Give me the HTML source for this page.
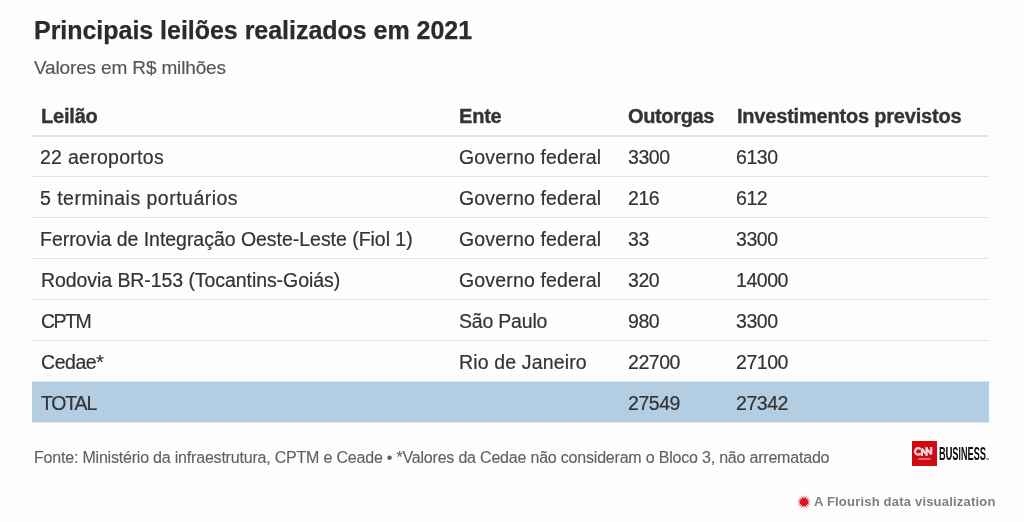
<!DOCTYPE html>
<html><head><meta charset="utf-8">
<style>
html,body{margin:0;padding:0;}
body{width:1024px;height:522px;background:#fdfdfd;position:relative;overflow:hidden;font-family:"Liberation Sans",sans-serif;color:#333;}
.t{position:absolute;white-space:nowrap;transform-origin:0 0;will-change:transform;}
.line{position:absolute;left:32px;width:957px;height:1px;background:#e3e3e3;}
.b{font-weight:bold;}
.h{-webkit-text-stroke:0.35px #333;font-size:20px;line-height:20px;letter-spacing:-0.2px;color:#333;top:106px;}
.r{-webkit-text-stroke:0.2px #333;font-size:19.5px;line-height:19.5px;color:#333;letter-spacing:0.2px;}
</style></head><body>
<div class="t b" style="left:34px;top:18px;letter-spacing:-0.03px;-webkit-text-stroke:0.25px #2b2b2b;font-size:25px;line-height:25px;color:#2b2b2b;">Principais leilões realizados em 2021</div>
<div class="t" style="left:34px;top:58px;font-size:19px;line-height:19px;color:#555;letter-spacing:-0.15px;-webkit-text-stroke:0.15px #555;">Valores em R$ milhões</div>

<div class="t b h" style="left:41px;">Leilão</div>
<div class="t b h" style="left:459px;">Ente</div>
<div class="t b h" style="left:628px;letter-spacing:-0.36px;">Outorgas</div>
<div class="t b h" style="left:737px;">Investimentos previstos</div>
<div class="line" style="top:135px;height:2px;background:#e6e6e6;"></div>
<div class="line" style="top:176px;"></div>
<div class="line" style="top:217px;"></div>
<div class="line" style="top:258px;"></div>
<div class="line" style="top:299px;"></div>
<div class="line" style="top:340px;"></div>
<div class="line" style="top:381px;"></div>
<div class="line" style="top:422px;background:#dfe3e8;"></div>
<div style="position:absolute;left:32px;top:382px;width:957px;height:40px;background:#b3cde3;"></div>
<div class="t r" style="left:40px;top:148px;letter-spacing:0.28px;">22 aeroportos</div>
<div class="t r" style="left:458.7px;top:148px;letter-spacing:0.16px;">Governo federal</div>
<div class="t r" style="left:627.7px;top:148px;letter-spacing:-0.45px;">3300</div>
<div class="t r" style="left:735.7px;top:148px;letter-spacing:-0.45px;">6130</div>
<div class="t r" style="left:40px;top:189px;letter-spacing:0.48px;">5 terminais portuários</div>
<div class="t r" style="left:458.7px;top:189px;letter-spacing:0.16px;">Governo federal</div>
<div class="t r" style="left:627.7px;top:189px;letter-spacing:-0.45px;">216</div>
<div class="t r" style="left:735.7px;top:189px;letter-spacing:-0.45px;">612</div>
<div class="t r" style="left:40px;top:230px;letter-spacing:-0.03px;">Ferrovia de Integração Oeste-Leste (Fiol 1)</div>
<div class="t r" style="left:458.7px;top:230px;letter-spacing:0.16px;">Governo federal</div>
<div class="t r" style="left:627.7px;top:230px;letter-spacing:-0.45px;">33</div>
<div class="t r" style="left:735.7px;top:230px;letter-spacing:-0.45px;">3300</div>
<div class="t r" style="left:40.5px;top:271px;letter-spacing:-0.07px;">Rodovia BR-153 (Tocantins-Goiás)</div>
<div class="t r" style="left:458.7px;top:271px;letter-spacing:0.16px;">Governo federal</div>
<div class="t r" style="left:627.7px;top:271px;letter-spacing:-0.45px;">320</div>
<div class="t r" style="left:735.7px;top:271px;letter-spacing:-0.45px;">14000</div>
<div class="t r" style="left:40.5px;top:312px;letter-spacing:-1.5px;">CPTM</div>
<div class="t r" style="left:458.7px;top:312px;letter-spacing:-0.2px;">São Paulo</div>
<div class="t r" style="left:627.7px;top:312px;letter-spacing:-0.45px;">980</div>
<div class="t r" style="left:735.7px;top:312px;letter-spacing:-0.45px;">3300</div>
<div class="t r" style="left:40.5px;top:353px;letter-spacing:-0.45px;">Cedae*</div>
<div class="t r" style="left:458.7px;top:353px;letter-spacing:0.15px;">Rio de Janeiro</div>
<div class="t r" style="left:627.7px;top:353px;letter-spacing:-0.45px;">22700</div>
<div class="t r" style="left:735.7px;top:353px;letter-spacing:-0.45px;">27100</div>
<div class="t r" style="left:41px;top:394px;letter-spacing:-1.2px;">TOTAL</div>
<div class="t r" style="left:627.7px;top:394px;letter-spacing:-0.45px;">27549</div>
<div class="t r" style="left:735.7px;top:394px;letter-spacing:-0.45px;">27342</div>
<div class="t" style="left:34px;top:450px;font-size:16px;line-height:16px;color:#606060;letter-spacing:-0.2px;-webkit-text-stroke:0.12px #606060;">Fonte: Ministério da infraestrutura, CPTM e Ceade • *Valores da Cedae não consideram o Bloco 3, não arrematado</div>

<div style="position:absolute;left:912px;top:441px;width:25px;height:25px;background:#d00a12;"></div>
<svg style="position:absolute;left:912px;top:441px;" width="25" height="25" viewBox="0 0 25 25"><g fill="none" stroke="#f6d9d9" stroke-width="2.2" stroke-linejoin="bevel" stroke-linecap="butt"><path d="M8.6 8.2 A3.2 3.2 0 1 0 8.6 12.6"/><path d="M9.9 15 V7.8 L13.9 12.8"/><path d="M14.6 15 V7.8 L19.2 13.2 V6"/><path d="M14.6 6 V8.5"/></g><rect x="6.2" y="17.3" width="12.6" height="1.3" fill="#e89a9a"/></svg>
<div class="t b" style="left:939px;top:445px;font-size:18px;line-height:18px;color:#111;transform:scaleX(0.51);">BUSINESS</div>
<div style="position:absolute;left:986px;top:458px;width:2.5px;height:2px;background:#6dbfae;"></div>
<svg style="position:absolute;left:796.2px;top:494px;" width="16" height="16" viewBox="0 0 16 16"><polygon fill="#c51a2a" points="8.00,1.00 8.66,4.67 10.68,1.53 9.89,5.17 12.95,3.05 10.83,6.11 14.47,5.32 11.33,7.34 15.00,8.00 11.33,8.66 14.47,10.68 10.83,9.89 12.95,12.95 9.89,10.83 10.68,14.47 8.66,11.33 8.00,15.00 7.34,11.33 5.32,14.47 6.11,10.83 3.05,12.95 5.17,9.89 1.53,10.68 4.67,8.66 1.00,8.00 4.67,7.34 1.53,5.32 5.17,6.11 3.05,3.05 6.11,5.17 5.32,1.53 7.34,4.67"/><circle cx="8" cy="8" r="3.6" fill="#e3121c"/></svg>
<div class="t b" style="left:814px;top:495px;font-size:13px;line-height:13px;color:#7f7f7f;letter-spacing:0.2px;">A Flourish data visualization</div>
</body></html>
